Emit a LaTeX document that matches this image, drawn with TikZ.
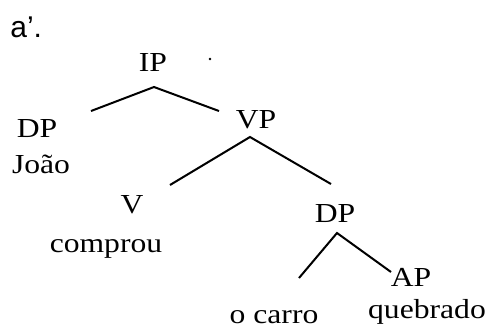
\documentclass[tikz,border=0pt]{standalone}
\usepackage{fontspec}
\setmainfont{Liberation Serif}[FakeStretch=1.15]
\newfontfamily\labelfont{Liberation Sans}
\usepackage{tikz}

\begin{document}
\begin{tikzpicture}[x=0.5pt,y=-0.5pt,
		cat/.style={anchor=base,inner sep=0pt,font=\fontsize{13.75}{16}\selectfont},
		branch/.style={line width=1pt}
		]
		\useasboundingbox (0,0) rectangle (488,329);
		
		\node[anchor=base west,inner sep=0pt,font=\labelfont\fontsize{15}{18}\selectfont] (ex) at (10,37) {a’.};
		
		% IP level
		\node[cat](ip) at (153,71) {IP};
		\fill (210,59) circle (1.3);
		\node[cat](dp1) at (37,137) {DP};
		\node[cat](joao) at (41,173) {João};
		\node[cat](vp) at (256,128) {VP};
		\coordinate (ip-b) at (154,87);
		\coordinate (dp1-t) at (91,111);
		\coordinate (vp-t) at (219,111);
		\draw[branch] (dp1-t) -- (ip-b) -- (vp-t);
		
		% VP level
		\node[cat](v) at (132,213) {V};
		\node[cat](comprou) at (106,252) {comprou};
		\node[cat](dp2) at (335,222) {DP};
		\coordinate (vp-b) at (250,137);
		\coordinate (v-t) at (170,185);
		\coordinate (dp2-t) at (331,184);
		\draw[branch] (v-t) -- (vp-b) -- (dp2-t);
		
		% DP level
		\node[cat](carro) at (274,323) {o carro};
		\node[cat](ap) at (411,286) {AP};
		\node[cat](quebrado) at (427,318) {quebrado};
		\coordinate (dp2-b) at (337,233);
		\coordinate (carro-t) at (299,278);
		\coordinate (ap-t) at (391,272);
		\draw[branch] (carro-t) -- (dp2-b) -- (ap-t);
	\end{tikzpicture}
\end{document}
